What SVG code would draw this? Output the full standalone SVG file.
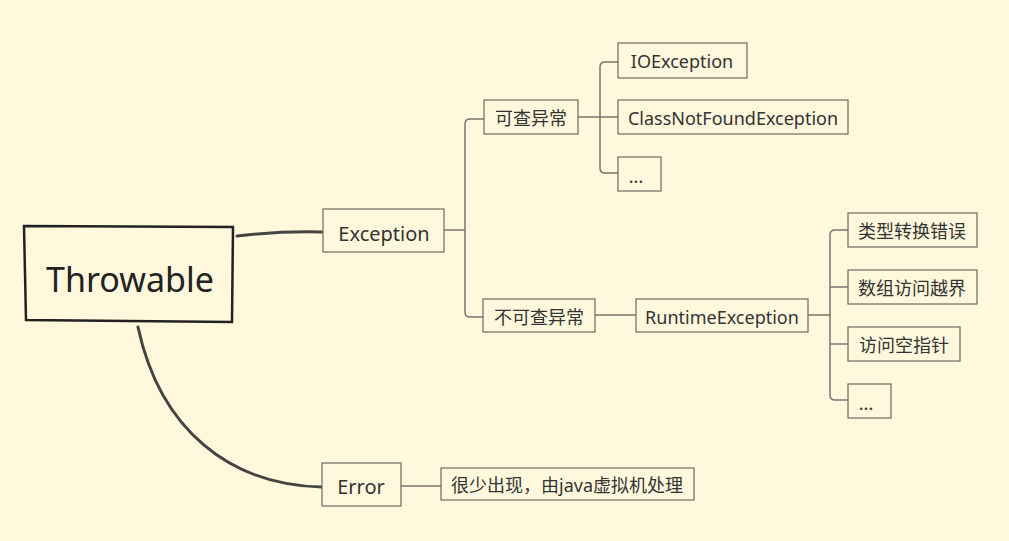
<svg xmlns="http://www.w3.org/2000/svg" width="1009" height="541" viewBox="0 0 1009 541">
<style>
.bg{fill:#fff8dc}
.box{fill:#fff8dc;stroke:#6f6a60;stroke-width:1.2}
.root{fill:#fff8dc;stroke:#222;stroke-width:2.5}
.t{font-family:"Noto Sans","Noto Sans CJK SC",sans-serif;fill:#333;font-size:18px;text-anchor:middle;dominant-baseline:central}
.t2{font-family:"Noto Sans","Noto Sans CJK SC",sans-serif;fill:#333;font-size:20px;text-anchor:middle;dominant-baseline:central}
.tr{font-family:"Noto Sans",sans-serif;fill:#222;font-size:34px;text-anchor:middle;dominant-baseline:central}
.main{fill:none;stroke:#444;stroke-width:3;stroke-linecap:round}
.sub{fill:none;stroke:#7a7670;stroke-width:1.5}
</style>
<rect class="bg" x="0" y="0" width="1009" height="541"/>
<g id="connectors">
<path class="main" d="M237 236 Q280 231 322 232"/>
<path class="main" d="M138 327 C160 430 230 485 322 487"/>
<path class="sub" d="M444 230 H465"/>
<path class="sub" d="M484 119 H470 Q465 119 465 124 V312 Q465 317 470 317 H483"/>
<path class="sub" d="M578 117 H618"/>
<path class="sub" d="M618 62 H605 Q600 62 600 67 V168 Q600 173 605 173 H618"/>
<path class="sub" d="M595 315 H636"/>
<path class="sub" d="M808 315 H830"/>
<path class="sub" d="M848 230 H835 Q830 230 830 235 V395 Q830 400 835 400 H848"/>
<path class="sub" d="M830 287 H848"/>
<path class="sub" d="M830 344 H848"/>
<path class="sub" d="M401 486 H441"/>
</g>
<g id="throwable">
<path class="root" d="M24 226 L233 227 L232 322 L26 320 Z"/>
<text class="tr" x="130" y="279">Throwable</text>
</g>
<g id="exception">
<rect class="box" x="323" y="209" width="121" height="43"/>
<text class="t2" x="384" y="233">Exception</text>
</g>
<g id="checked">
<rect class="box" x="484" y="100" width="94" height="34"/>
<text class="t" x="531" y="118">可查异常</text>
</g>
<g id="ioexception">
<rect class="box" x="618" y="43" width="129" height="35"/>
<text class="t" x="682" y="61">IOException</text>
</g>
<g id="classnotfound">
<rect class="box" x="618" y="100" width="230" height="34"/>
<text class="t" x="733" y="118">ClassNotFoundException</text>
</g>
<g id="checked-more">
<rect class="box" x="618" y="157" width="43" height="34"/>
<text class="t" x="636" y="176">...</text>
</g>
<g id="unchecked">
<rect class="box" x="483" y="299" width="112" height="33"/>
<text class="t" x="539" y="317">不可查异常</text>
</g>
<g id="runtime">
<rect class="box" x="636" y="299" width="172" height="33"/>
<text class="t" x="722" y="317">RuntimeException</text>
</g>
<g id="cast">
<rect class="box" x="848" y="213" width="129" height="34"/>
<text class="t" x="912" y="231">类型转换错误</text>
</g>
<g id="array">
<rect class="box" x="848" y="270" width="129" height="34"/>
<text class="t" x="912" y="288">数组访问越界</text>
</g>
<g id="nullptr">
<rect class="box" x="848" y="327" width="112" height="34"/>
<text class="t" x="904" y="345">访问空指针</text>
</g>
<g id="runtime-more">
<rect class="box" x="848" y="384" width="43" height="34"/>
<text class="t" x="866" y="403">...</text>
</g>
<g id="error">
<rect class="box" x="322" y="463" width="79" height="43"/>
<text class="t2" x="361" y="486">Error</text>
</g>
<g id="error-note">
<rect class="box" x="441" y="468" width="253" height="32"/>
<text class="t" x="567" y="485">很少出现，由java虚拟机处理</text>
</g>
</svg>
